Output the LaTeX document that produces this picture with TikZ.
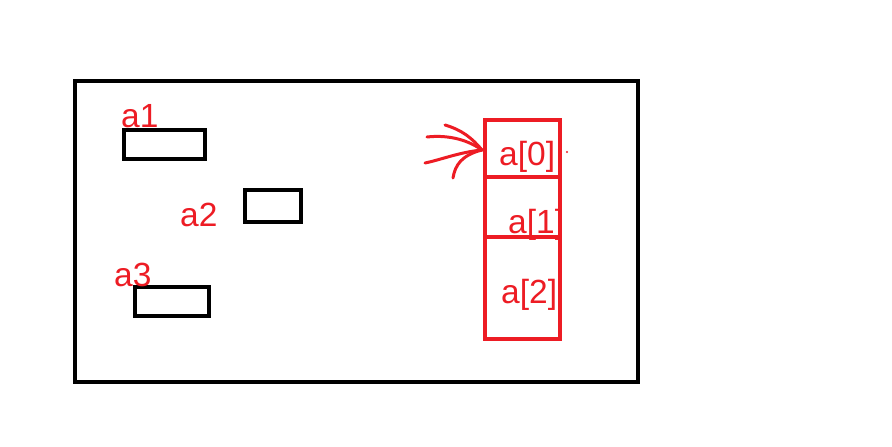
\documentclass[tikz,border=0pt]{standalone}
\usepackage{fontspec}
\setmainfont{Liberation Sans}
\definecolor{pred}{RGB}{237,28,36}
\begin{document}
\begin{tikzpicture}[x=1pt,y=-1pt,
  blackbox/.style={draw=black,line width=4pt,inner sep=0pt,outer sep=0pt,anchor=north west},
  cell/.style={draw=pred,line width=4pt,inner sep=0pt,outer sep=0pt,anchor=north west,minimum width=75pt},
  lbl/.style={text=pred,font=\fontsize{33.5}{33.5}\selectfont,inner sep=0pt,anchor=base west},
  stroke/.style={draw=pred,line width=3pt,line cap=round,line join=round}]
\useasboundingbox[fill=white] (0,0) rectangle (892,447);
% outer frame
\node[blackbox,minimum width=563pt,minimum height=301pt] (frame) at (75,81) {};
% small boxes
\node[blackbox,minimum width=81pt,minimum height=29pt] (b1) at (124,130) {};
\node[blackbox,minimum width=56pt,minimum height=32pt] (b2) at (245,190) {};
\node[blackbox,minimum width=74pt,minimum height=29pt] (b3) at (135,287) {};
\node[lbl] (l1) at (121,127) {a1};
\node[lbl] (l2) at (180,226) {a2};
\node[lbl] (l3) at (114,286) {a3};
% red array
\node[cell,minimum height=57pt] (c0) at (485,120) {};
\node[cell,minimum height=60pt] (c1) at (485,177) {};
\node[cell,minimum height=102pt] (c2) at (485,237) {};
\node[lbl] (t0) at (499,165) {a[0]};
\node[lbl] (t1) at (508,233) {a[1]};
\node[lbl] (t2) at (501,303) {a[2]};
\fill[pred] (567,152) circle (1.2pt);
% hand drawn arrow
\coordinate (tip) at (482,150);
\coordinate (s1) at (427,137);
\coordinate (s2) at (425,163);
\coordinate (h1) at (445,125);
\coordinate (h2) at (453,178);
\draw[stroke] (s1) .. controls (445,135) and (465,138) .. (tip);
\draw[stroke] (s2) .. controls (440,160) and (460,152) .. (tip);
\draw[stroke] (h1) .. controls (462,130) and (472,138) .. (tip);
\draw[stroke] (h2) .. controls (455,165) and (462,155) .. (tip);
\end{tikzpicture}
\end{document}
